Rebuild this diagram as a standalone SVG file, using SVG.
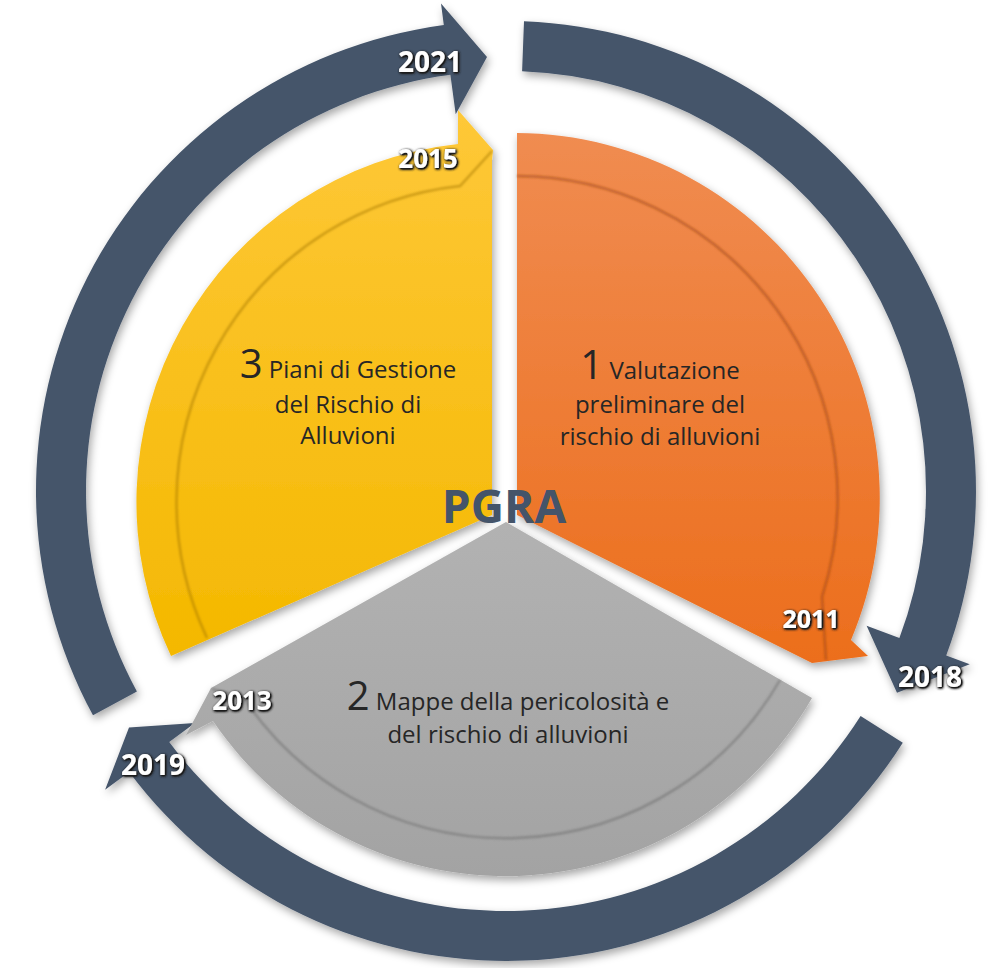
<svg xmlns="http://www.w3.org/2000/svg" width="997" height="968" viewBox="0 0 997 968">
<defs>
<style>
.ring{fill:#44546A;filter:url(#sh)}
.lbl{font-family:"Open Sans","Liberation Sans",sans-serif;font-size:24px;fill:#262626;text-anchor:middle}
.big{font-size:40px}
.yr{font-family:"Open Sans","Liberation Sans",sans-serif;font-weight:bold;fill:#fff;text-anchor:middle;filter:url(#ts)}
.ridge{fill:none;stroke-width:2.5;stroke-opacity:0.55;filter:url(#bl)}
</style>
<filter id="sh" x="-15%" y="-15%" width="130%" height="130%"><feDropShadow dx="2" dy="4" stdDeviation="4" flood-color="#000" flood-opacity="0.35"/></filter>
<filter id="ts" x="-20%" y="-30%" width="140%" height="160%"><feGaussianBlur in="SourceAlpha" stdDeviation="1.6" result="b"/><feOffset in="b" dx="1" dy="1" result="o"/><feComponentTransfer in="o" result="d"><feFuncA type="linear" slope="2.2"/></feComponentTransfer><feFlood flood-color="#1a1a1a"/><feComposite in2="d" operator="in" result="s"/><feMerge><feMergeNode in="s"/><feMergeNode in="SourceGraphic"/></feMerge></filter>
<filter id="bl" x="-10%" y="-10%" width="120%" height="120%"><feGaussianBlur stdDeviation="1.2"/></filter>
<linearGradient id="gy" x1="0" y1="0" x2="0" y2="1"><stop offset="0" stop-color="#FEC838"/><stop offset="1" stop-color="#F4B800"/></linearGradient>
<linearGradient id="go" x1="0" y1="0" x2="0" y2="1"><stop offset="0" stop-color="#F08C51"/><stop offset="1" stop-color="#EC6E1C"/></linearGradient>
<linearGradient id="gg" x1="0" y1="0" x2="0" y2="1"><stop offset="0" stop-color="#B2B2B2"/><stop offset="1" stop-color="#A3A3A3"/></linearGradient>
</defs>
<rect width="997" height="968" fill="#fff"/>
<g id="connectors">
<path id="arrow-2021" class="ring" d="M93,715.3 A470 470 0 0 1 443.8,25.1 L441,3.5 L487,57 L455.7,114.3 L450.4,74.7 A420 420 0 0 0 136.9,691.4 Z"/>
<path id="arrow-2018" class="ring" d="M524,21.3 A470 470 0 0 1 946.2,655.6 L969.7,664.3 L897,692.8 L866.6,625.8 L899.4,638.1 A420 420 0 0 0 522.1,71.3 Z"/>
<path id="arrow-2019" class="ring" d="M902.8,742.8 A470 470 0 0 1 129.2,771.9 L105.1,789.8 L129,727.5 L194.9,722.9 L169.2,742 A420 420 0 0 0 860.6,716 Z"/>
</g>
<g id="node-3">
<path d="M492,515 L171,656 A360 360 0 0 1 458,144.1 L458,110 L493,150 L492,160 Z" fill="url(#gy)" filter="url(#sh)"/>
<path class="ridge" stroke="#A87A00" d="M207,638 A318 318 0 0 1 460,186 L492,151"/>
<text class="lbl" x="348" y="378"><tspan class="big">3</tspan> Piani di Gestione</text>
<text class="lbl" x="348" y="413">del Rischio di</text>
<text class="lbl" x="348" y="444">Alluvioni</text>
</g>
<g id="node-1">
<path d="M517,515 L517,133 A365 365 0 0 1 851,640 L868,656 L812,663 Z" fill="url(#go)" filter="url(#sh)"/>
<path class="ridge" stroke="#9A4512" d="M517,176 A322 322 0 0 1 822,597 L826,660"/>
<text class="lbl" x="660" y="379"><tspan class="big">1</tspan> Valutazione</text>
<text class="lbl" x="660" y="413">preliminare del</text>
<text class="lbl" x="660" y="445">rischio di alluvioni</text>
</g>
<g id="node-2">
<path d="M506,522 L812,698 A353 353 0 0 1 213,721 L186,735 L211,688 Z" fill="url(#gg)" filter="url(#sh)"/>
<path class="ridge" stroke="#6E6E6E" d="M780,680 A316 316 0 0 1 243,697 L212,689"/>
<text class="lbl" x="508" y="710"><tspan class="big">2</tspan> Mappe della pericolosità e</text>
<text class="lbl" x="508" y="743">del rischio di alluvioni</text>
</g>
<g id="center">
<text x="504" y="523" font-family="Open Sans, Liberation Sans, sans-serif" font-weight="bold" font-size="46" fill="#44546A" text-anchor="middle">PGRA</text>
</g>
<g id="years">
<text class="yr" x="430" y="72" font-size="28">2021</text>
<text class="yr" x="428" y="168" font-size="26">2015</text>
<text class="yr" x="811" y="628" font-size="25">2011</text>
<text class="yr" x="930" y="687" font-size="28">2018</text>
<text class="yr" x="242" y="710" font-size="26">2013</text>
<text class="yr" x="153" y="775" font-size="28">2019</text>
</g>
</svg>
